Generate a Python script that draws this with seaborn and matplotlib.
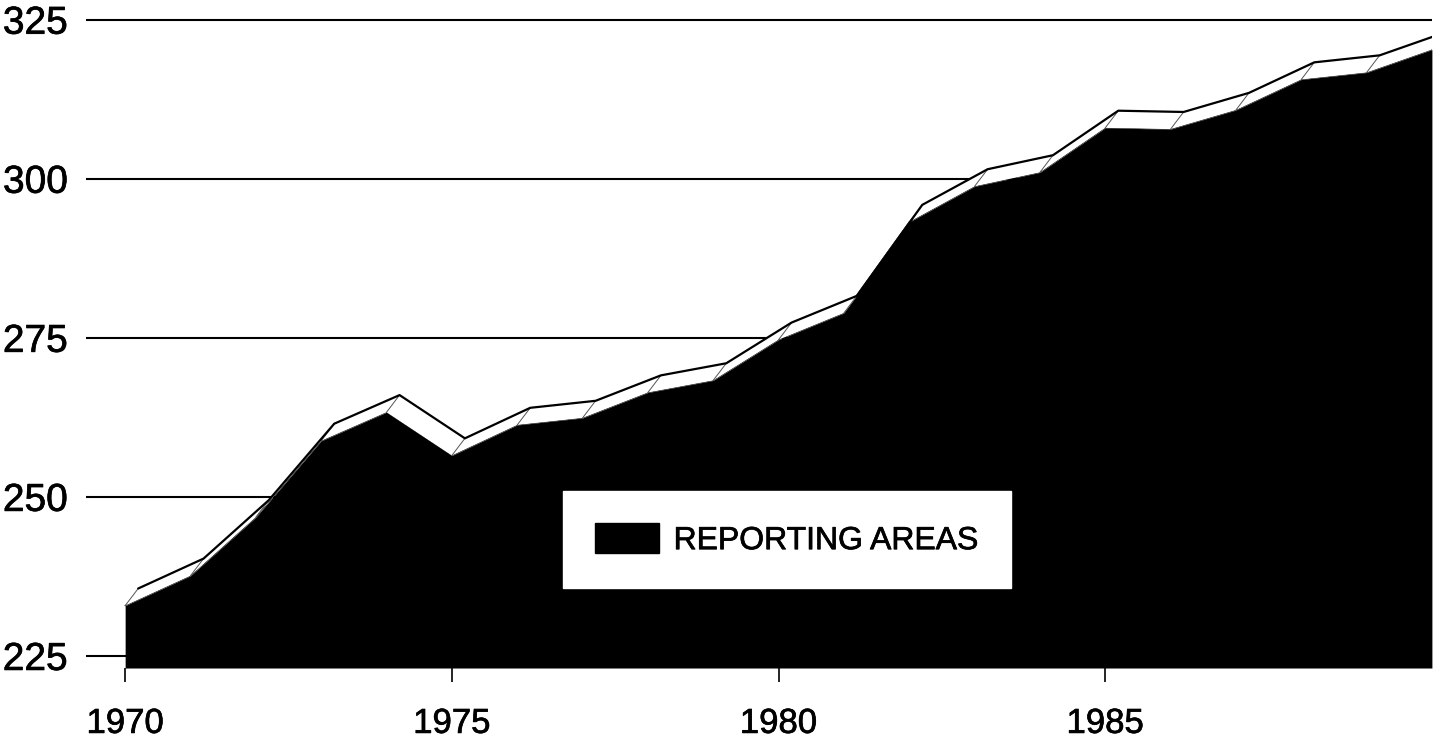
import matplotlib
matplotlib.use("Agg")
import matplotlib.pyplot as plt
import matplotlib.patheffects as pe
from matplotlib.patches import Patch
import seaborn as sns

# values
years = list(range(1970, 1991))
reporting_areas = [232.9, 237.6, 246.8, 258.8, 263.3, 256.5, 261.3, 262.4, 266.4, 268.3,
                   274.7, 278.9, 293.2, 298.8, 301.0, 308.0, 307.8, 310.8, 315.6, 316.7, 320.3]
y_ticks = [225, 250, 275, 300, 325]
x_ticks = [1970, 1975, 1980, 1985]
legend_label = "REPORTING AREAS"

# pseudo 3-D offset of the top ridge (years, units)
dx, dy = 0.2, 2.7
base = 223.1

sns.set_style("white")
plt.rcParams["font.family"] = ["Liberation Sans", "DejaVu Sans"]
plt.rcParams["text.color"] = "black"
plt.rcParams["xtick.color"] = "black"
plt.rcParams["ytick.color"] = "black"

fig = plt.figure(figsize=(14.42, 7.51), dpi=100)
ax = fig.add_axes([0.0596, 0.1105, 0.9334, 0.8895])

# front face
ax.fill_between(years, reporting_areas, base, color="black", lw=0, zorder=2)
sns.lineplot(x=years, y=reporting_areas, ax=ax, color="black", lw=0.8, zorder=2)

# white top band with ridge line
top_x = [x + dx for x in years]
top_y = [v + dy for v in reporting_areas]
for i in range(len(years) - 1):
    ax.fill([years[i], years[i + 1], top_x[i + 1], top_x[i]],
            [reporting_areas[i], reporting_areas[i + 1], top_y[i + 1], top_y[i]],
            color="white", lw=0, zorder=3)
for i in range(len(years)):
    ax.plot([years[i], top_x[i]], [reporting_areas[i], top_y[i]],
            color="#555555", lw=0.7, zorder=4)
sns.lineplot(x=top_x, y=top_y, ax=ax, color="black", lw=1.6, zorder=4)

ax.set_xlim(1969.4, 1990)
ax.set_ylim(base, 328.1)
ax.set_yticks(y_ticks)
ax.set_xticks(x_ticks)
ax.set_xticklabels([str(t) for t in x_ticks])
ax.yaxis.grid(True, color="black", lw=1.5)
ax.xaxis.grid(False)
ax.set_axisbelow(True)
sns.despine(ax=ax, left=True, bottom=True)

ax.tick_params(axis="y", length=0, pad=13, labelsize=28, labelcolor="black")
ax.tick_params(axis="x", length=10, width=1.2, color="black", direction="out",
               pad=18, labelsize=25, labelcolor="black", bottom=True)
ax.set_xlabel("")
ax.set_ylabel("")

handle = Patch(facecolor="black", edgecolor="black")
leg = ax.legend([handle], [legend_label], loc="center", bbox_to_anchor=(0.521, 0.192),
                fontsize=23, frameon=True, fancybox=False, framealpha=1,
                borderpad=1.0, handlelength=2.0, handleheight=1.06, handletextpad=0.45,
                labelcolor="black")
leg.get_frame().set_facecolor("white")
leg.get_frame().set_edgecolor("white")
leg.set_zorder(6)

# the scanned lettering is a little heavier than the regular face
heavier = [pe.withStroke(linewidth=0.5, foreground="black")]
for t in ax.get_xticklabels() + ax.get_yticklabels() + leg.get_texts():
    t.set_path_effects(heavier)

fig.savefig("out.png", dpi=100)
